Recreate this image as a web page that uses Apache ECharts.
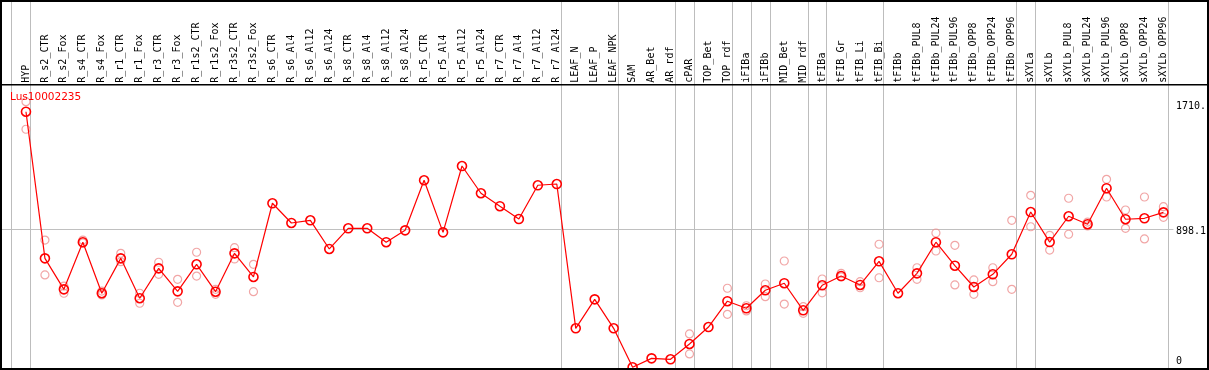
<!DOCTYPE html>
<html>
<head>
<meta charset="utf-8">
<script src="https://cdn.jsdelivr.net/npm/echarts@6/dist/echarts.min.js"></script>
<style>
html,body{margin:0;padding:0;background:#fff;}
#chart{width:1209px;height:370px;}
</style>
</head>
<body>
<div id="chart"></div>
<script>
const geneId = 'Lus10002235';
const categories = ['HYP','R_s2_CTR','R_s2_Fox','R_s4_CTR','R_s4_Fox','R_r1_CTR','R_r1_Fox','R_r3_CTR','R_r3_Fox','R_r1s2_CTR','R_r1s2_Fox','R_r3s2_CTR','R_r3s2_Fox','R_s6_CTR','R_s6_Al4','R_s6_Al12','R_s6_Al24','R_s8_CTR','R_s8_Al4','R_s8_Al12','R_s8_Al24','R_r5_CTR','R_r5_Al4','R_r5_Al12','R_r5_Al24','R_r7_CTR','R_r7_Al4','R_r7_Al12','R_r7_Al24','LEAF_N','LEAF_P','LEAF_NPK','SAM','AR_Bet','AR_rdf','cPAR','TOP_Bet','TOP_rdf','iFIBa','iFIBb','MID_Bet','MID_rdf','tFIBa','tFIB_Gr','tFIB_Li','tFIB_Bi','tFIBb','tFIBb_PUL8','tFIBb_PUL24','tFIBb_PUL96','tFIBb_OPP8','tFIBb_OPP24','tFIBb_OPP96','sXYLa','sXYLb','sXYLb_PUL8','sXYLb_PUL24','sXYLb_PUL96','sXYLb_OPP8','sXYLb_OPP24','sXYLb_OPP96'];
const meanValues = [1646,709,511,812,486,709,454,645,498,671,496,741,590,1061,935,952,769,901,901,812,888,1208,875,1299,1125,1042,960,1176,1184,262,447,262,13,70,64,162,270,435,390,505,550,377,537,596,539,690,486,613,812,662,526,607,735,1005,813,978,927,1157,959,965,1003];
const repHigh = [1710,826,532,826,500,741,486,684,575,748,511,777,671,null,null,null,null,null,null,null,null,null,null,null,null,null,null,null,null,null,null,null,null,null,null,226,null,518,406,545,692,400,577,613,560,799,null,649,871,792,571,649,952,1112,856,1093,941,1214,1018,1101,1039];
const repLow = [1534,603,486,807,475,688,422,607,428,596,479,705,496,null,null,null,null,null,null,null,null,null,null,null,null,null,null,null,null,null,null,null,null,null,null,98,null,351,373,464,417,358,489,590,521,585,null,575,756,539,479,560,511,911,762,863,916,1101,901,833,971];
const groupEnds = [-1,0,28,31,34,35,37,38,39,41,42,45,52,53,60];
const yTickValues = [0,898.1,1710];
const yTickLabels = ['0','898.1','1710.'];
const refLineValue = 898.1;

const repData = [];
categories.forEach((c,i)=>{
  if (repHigh[i] != null) repData.push([i, repHigh[i]]);
  if (repLow[i] != null) repData.push([i, repLow[i]]);
});

const labelMap = {};
yTickValues.forEach((v,i)=>{ labelMap[String(v)] = yTickLabels[i]; });

const chart = echarts.init(document.getElementById('chart'), null, {renderer:'canvas'});
const option = {
  animation:false,
  backgroundColor:'#fff',
  title:{
    text: geneId, left:10, top:91.5, padding:0,
    textStyle:{color:'#ff0000', fontSize:10.5, fontWeight:'normal', fontFamily:'DejaVu Sans'}
  },
  grid:{left:16.5, right:33.5, top:101.7, bottom:0.7, containLabel:false},
  xAxis:{
    type:'category', data:categories, position:'top', boundaryGap:true,
    axisLine:{show:false}, axisTick:{show:false}, splitLine:{show:false},
    axisLabel:{interval:0, rotate:90, margin:19, fontFamily:'DejaVu Sans Mono', fontSize:10, color:'#000'}
  },
  yAxis:{
    type:'value', position:'right', min:0, max:1710,
    axisLine:{show:false}, axisTick:{show:false}, splitLine:{show:false},
    axisLabel:{
      customValues: yTickValues, margin:3, color:'#000',
      fontFamily:'DejaVu Sans Mono', fontSize:10,
      formatter:(v)=>{
        const t = labelMap[String(v)] || String(v);
        if (v === 0) return '{b|'+t+'}';
        if (v === 1710) return '{c|'+t+'}';
        return '{a|'+t+'}';
      },
      rich:{
        a:{fontFamily:'DejaVu Sans Mono', fontSize:10, color:'#000', padding:[6,0,0,0]},
        c:{fontFamily:'DejaVu Sans Mono', fontSize:10, color:'#000', padding:[9,0,0,0]},
        b:{fontFamily:'DejaVu Sans Mono', fontSize:10, color:'#000', padding:[0,0,15,0]}
      }
    }
  },
  series:[
    {
      type:'scatter', data:repData, clip:false, z:2,
      symbol:'circle', symbolSize:8,
      itemStyle:{color:'rgba(0,0,0,0)', borderColor:'#ee9090', borderWidth:1.2}
    },
    {
      type:'line', data:meanValues, clip:false, z:3,
      symbol:'circle', symbolSize:9,
      lineStyle:{color:'#ff0000', width:1.2},
      itemStyle:{color:'rgba(0,0,0,0)', borderColor:'#ff0000', borderWidth:1.6}
    }
  ]
};
chart.setOption(option);

function drawGraphics(){
  const p0 = chart.convertToPixel({xAxisIndex:0}, 0);
  const p1 = chart.convertToPixel({xAxisIndex:0}, 1);
  const step = p1 - p0;
  const yRef = chart.convertToPixel({yAxisIndex:0}, refLineValue);
  const yZero = chart.convertToPixel({yAxisIndex:0}, 0);
  const els = [];
  const xs = groupEnds.map(i => Math.round(p0 + step*i + 4.3));
  xs.forEach((x)=>{
    els.push({type:'rect', shape:{x:x,y:0,width:1,height:370}, style:{fill:'#bdbdbd'}, z:1, silent:true});
  });
  const yr = Math.round(yRef);
  els.push({type:'rect', shape:{x:1,y:yr,width:p0 + step*(categories.length-1) + 9,height:1}, style:{fill:'#c0c0c0'}, z:0, silent:true});
  els.push({type:'rect', shape:{x:0,y:84,width:1209,height:1.5}, style:{fill:'#000'}, z:10, silent:true});
  els.push({type:'rect', shape:{x:1,y:1,width:1207,height:Math.round(yZero)-1}, style:{fill:null, stroke:'#000', lineWidth:2}, z:10, silent:true});
  chart.setOption({graphic:{elements:els}});
}
drawGraphics();
</script>
</body>
</html>
